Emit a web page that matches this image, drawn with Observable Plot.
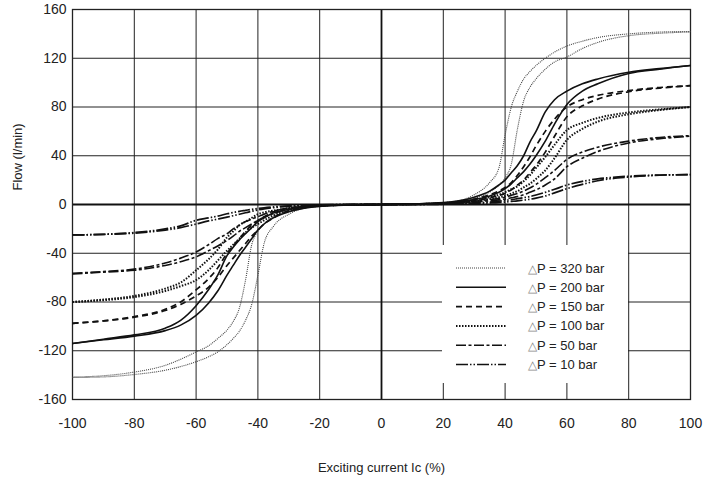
<!DOCTYPE html>
<html><head><meta charset="utf-8">
<script src="https://cdn.jsdelivr.net/npm/d3@7"></script>
<script src="https://cdn.jsdelivr.net/npm/@observablehq/plot@0.6"></script>
<style>
body{margin:0;background:#fff;font-family:"Liberation Sans",Arial,sans-serif;}
#wrap{position:relative;width:706px;height:477px;}
#legend{position:absolute;left:442px;top:245px;width:186px;height:138px;background:#fff;}
</style></head><body><div id="wrap"><div id="legend"></div></div>
<script>
// Exciting current Ic (%)
const current = [-100,-90,-80,-70,-65,-60,-56,-53,-50,-48,-46,-44,-42,-40,-38,-35,-30,-25,-20,-10,0,10,20,25,30,35,38,40,42,44,46,48,50,53,56,60,65,70,80,90,100];

// Flow (l/min), inner / outer branch of each hysteresis loop
const flow320In  = [-142,-141.5,-139.5,-136,-133,-129,-125,-121,-115,-110,-104,-95,-82,-58,-32,-18,-8,-3,-1.5,-0.5, 0,0.5,1.5,3,8,18,30,57,80,93,103,109,114,120,125,130,134,137,140,141.5,142];
const flow320Out = [-141.5,-140.5,-137.5,-132,-127,-121,-116,-110,-103,-96,-85,-62,-33,-22,-16,-10,-5,-2,-1,-0.3, 0,0.3,1,2,5,10,16,22,33,62,85,96,103,111,117,121,128,133,138.5,140.5,141.5];
const flow200In  = [-114,-111,-108,-103.5,-99,-91,-81,-71,-58,-50,-42,-35,-28,-21,-16,-11,-6,-3,-1.5,-0.5, 0,0.5,1.5,3,6,11,16,20,26,32,40,51,60,76,86,93,99,103,108.5,111.5,114];
const flow200Out = [-114,-110.5,-107,-101.5,-95,-83,-70,-58,-42,-35,-29,-24,-19,-14,-11,-7,-4,-2,-1,-0.3, 0,0.3,1,2,4,7,10,13,17,22,27,33,40,52,66,82,93,99,107.5,111,114];
const flow150In  = [-97.5,-95.5,-92.5,-87,-82,-75,-68,-60,-50,-44,-38,-32,-26,-21,-16,-11,-5,-2.5,-1.2,-0.4, 0,0.4,1.2,2.5,4.5,8,11,14,18,24,31,39,48,60,70,80,86,89.5,93.5,96,97.5];
const flow150Out = [-97.5,-95.5,-92,-86,-80,-70,-61,-52,-40,-34,-28,-22,-17,-13,-10,-6,-3,-1.5,-0.8,-0.2, 0,0.2,0.8,1.5,3,5.5,7.5,9,12,16,20,26,32,43,56,72,81,86.5,92.5,95.5,97.5];
const flow100In  = [-80,-78.5,-76,-71,-67,-62,-54,-46,-38,-33,-28,-23,-19,-16,-13,-9,-5,-2.5,-1,-0.3, 0,0.3,1,2,3.5,6,8,10,12.5,15,19,24,30,39,49,61,67,71,75.5,78,80];
const flow100Out = [-80,-78,-75,-69,-64,-54,-45,-37,-27,-22,-17,-14,-11,-8,-6.5,-5,-3,-1.5,-0.8,-0.2, 0,0.2,0.8,1.5,2.5,4.5,6,7,9,11,14,17,21,28,38,53,62,68,74,77.5,80];
const flow50In   = [-57,-55.5,-54,-50,-47,-43,-38,-34,-29.5,-26,-22,-19,-16,-13,-10.5,-7.5,-4,-2,-1,-0.2, 0,0.2,0.8,1.5,2.5,4,5,6,7.5,9,11,13.5,16.5,22,28,37,43,47,52,55,56.5];
const flow50Out  = [-56.5,-55,-53,-48,-44,-39,-33,-28,-24,-20,-17,-14,-12,-10,-8,-5.5,-3,-1.5,-0.6,-0.1, 0,0.1,0.5,1,1.8,3,3.8,4.5,5.5,6.5,8,10,12,16,21,31,38,43.5,50.5,54,56];
const flow10In   = [-25,-24.5,-23.5,-21,-19,-16,-13.5,-12,-10.4,-9.2,-8,-6.8,-5.6,-4.5,-3.6,-2.6,-1.5,-0.8,-0.4,-0.1, 0,0.1,0.4,0.8,1.3,2,2.7,3.3,4,4.8,5.6,6.5,7.8,10,12.5,16,19,21,23.2,24.2,24.5];
const flow10Out  = [-25,-24.5,-23,-20,-17.5,-13,-11,-9.5,-7.6,-6.6,-5.6,-4.8,-4,-3.3,-2.7,-2,-1.1,-0.6,-0.3,-0.05, 0,0.05,0.2,0.4,0.7,1.2,1.6,2,2.5,3,3.6,4.3,5.2,7,9.5,13,16.5,19.5,22.5,24,24.5];

const pressures = [320, 200, 150, 100, 50, 10];
const legendLabels = ["△P = 320 bar", "△P = 200 bar", "△P = 150 bar", "△P = 100 bar", "△P = 50 bar", "△P = 10 bar"];
const xTicks = [-100,-80,-60,-40,-20,0,20,40,60,80,100];
const yTicks = [-160,-120,-80,-40,0,40,80,120,160];
const xTitle = "Exciting current Ic (%)";
const yTitle = "Flow (l/min)";

const branches = {
  320: [flow320In, flow320Out], 200: [flow200In, flow200Out], 150: [flow150In, flow150Out],
  100: [flow100In, flow100Out], 50: [flow50In, flow50Out], 10: [flow10In, flow10Out]
};

// line styles (kept separate from data)
const styles = {
  320: {stroke: "#444", strokeWidth: 1.1, strokeDasharray: "1,1"},
  200: {stroke: "#111", strokeWidth: 1.6, strokeDasharray: null},
  150: {stroke: "#111", strokeWidth: 1.7, strokeDasharray: "6,4"},
  100: {stroke: "#111", strokeWidth: 2, strokeDasharray: "1.5,1.5"},
  50:  {stroke: "#111", strokeWidth: 1.6, strokeDasharray: "10,2.5,3,2.5"},
  10:  {stroke: "#111", strokeWidth: 1.7, strokeDasharray: "12,2,1.5,2,1.5,2"}
};

const lineMarks = pressures.map(p => {
  const rows = [];
  branches[p].forEach((ys, b) => ys.forEach((y, i) => rows.push({x: current[i], y, branch: b})));
  const s = styles[p];
  const opts = {x: "x", y: "y", z: "branch", curve: "monotone-x", stroke: s.stroke, strokeWidth: s.strokeWidth, strokeLinecap: "butt"};
  if (s.strokeDasharray) opts.strokeDasharray = s.strokeDasharray;
  return Plot.line(rows, opts);
});

const chart = Plot.plot({
  width: 706, height: 477,
  marginLeft: 72, marginRight: 16, marginTop: 9, marginBottom: 78,
  x: {domain: [-100, 100], ticks: xTicks, tickSize: 0, tickPadding: 19, label: null, tickFormat: d => String(d)},
  y: {domain: [-160, 160], ticks: yTicks, tickSize: 0, tickPadding: 6, label: null, tickFormat: d => String(d)},
  style: {fontSize: "14px", fontFamily: "'Liberation Sans', Arial, sans-serif", color: "#222", background: "#fff"},
  marks: [
    Plot.ruleX(xTicks, {stroke: "#222", strokeWidth: 1}),
    Plot.ruleY(yTicks, {stroke: "#222", strokeWidth: 1}),
    Plot.ruleX([0], {stroke: "#111", strokeWidth: 1.8}),
    Plot.ruleY([0], {stroke: "#111", strokeWidth: 1.8}),
    Plot.frame({stroke: "#222", strokeWidth: 1.3}),
    ...lineMarks,
    Plot.text([xTitle], {frameAnchor: "bottom", dy: 72, fontSize: 13, fill: "#222"}),
    Plot.text([yTitle], {frameAnchor: "left", rotate: -90, dx: -55, dy: -14, fontSize: 13, fill: "#222"})
  ]
});
const wrap = document.getElementById("wrap");
wrap.insertBefore(chart, wrap.firstChild);

// legend box
const lsvg = d3.select("#legend").append("svg").attr("width", 186).attr("height", 138);
pressures.forEach((p, i) => {
  const y = 23 + i * 19.3;
  const s = styles[p];
  lsvg.append("line").attr("x1", 14).attr("x2", 64).attr("y1", y).attr("y2", y)
    .attr("stroke", s.stroke).attr("stroke-width", s.strokeWidth)
    .attr("stroke-dasharray", s.strokeDasharray || null);
  const t = lsvg.append("text").attr("x", 86).attr("y", y).attr("dy", "0.35em")
    .style("font-size", "13px").style("font-family", "'Liberation Sans', Arial, sans-serif").attr("fill", "#222");
  t.append("tspan").text(legendLabels[i].slice(0, 1)).attr("fill", "#888").style("font-size", "12px");
  t.append("tspan").text(legendLabels[i].slice(1));
});
</script></body></html>
